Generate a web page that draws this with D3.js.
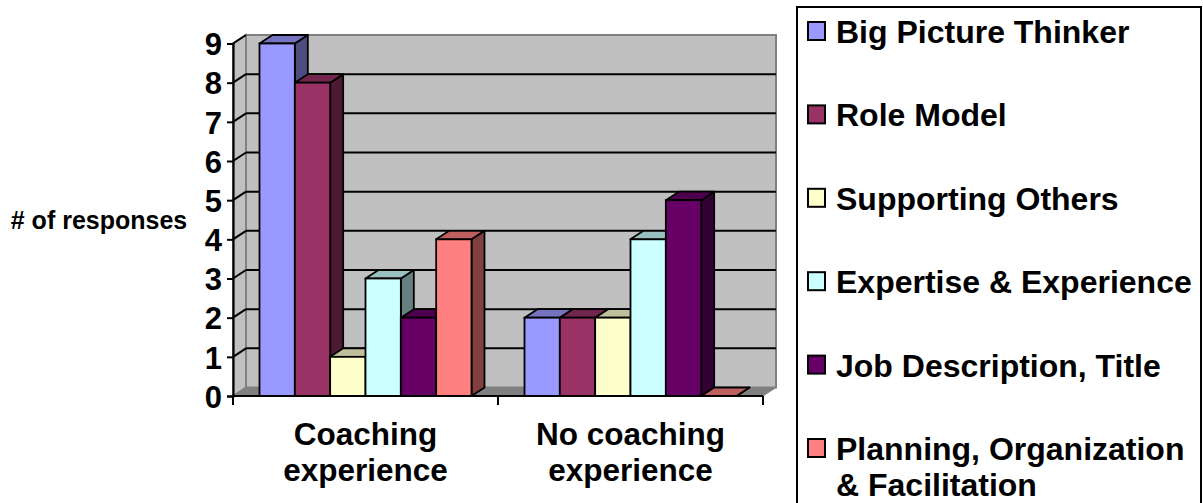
<!DOCTYPE html>
<html>
<head>
<meta charset="utf-8">
<script src="https://cdn.jsdelivr.net/npm/d3@7"></script>
<style>
  html, body { margin: 0; padding: 0; background: #fff; }
  svg { display: block; font-family: "Liberation Sans", Arial, sans-serif; font-weight: bold; }
</style>
</head>
<body>
<svg id="chart" width="1203" height="503"></svg>
<script>
// ---- data ----
const categories = [["Coaching", "experience"], ["No coaching", "experience"]];
const categoryKeys = ["Coaching experience", "No coaching experience"];
const seriesNames = ["Big Picture Thinker", "Role Model", "Supporting Others", "Expertise & Experience", "Job Description, Title", "Planning, Organization & Facilitation"];
const legendLines = [["Big Picture Thinker"], ["Role Model"], ["Supporting Others"], ["Expertise & Experience"], ["Job Description, Title"], ["Planning, Organization", "& Facilitation"]];
const valuesCoaching = [9, 8, 1, 3, 2, 4];
const valuesNoCoaching = [2, 2, 2, 4, 5, 0];
const yTicks = [0, 1, 2, 3, 4, 5, 6, 7, 8, 9];
const frontColors = ["#9999FF", "#993366", "#FFFFCC", "#CCFFFF", "#660066", "#FF8080"];

const seriesValues = [valuesCoaching, valuesNoCoaching];

// ---- layout ----
const svg = d3.select("#chart");
const X0 = 233, X1 = 763, Y0 = 396, Y9 = 43.5;
const DX = 13, DY = -8.5;

const y = d3.scaleLinear().domain([0, 9]).range([Y0, Y9]);
const x = d3.scaleBand().domain(categoryKeys).range([X0, X1]).paddingInner(0).paddingOuter(0);
const bw = x.bandwidth();
const groupW = bw * 6 / 7.5;
const xs = d3.scaleBand().domain(d3.range(6)).range([(bw - groupW) / 2, (bw + groupW) / 2]);

function shade(c, k) {
  const r = d3.rgb(c);
  return d3.rgb(r.r * k, r.g * k, r.b * k).formatHex();
}

// back wall
const yTop = y(9);
svg.append("polygon")
  .attr("points", [[X0 + DX, yTop + DY], [X1 + DX, yTop + DY], [X1 + DX, Y0 + DY], [X0 + DX, Y0 + DY]].join(" "))
  .attr("fill", "#C0C0C0").attr("stroke", "#808080").attr("stroke-width", 2);
// side wall
svg.append("polygon")
  .attr("points", [[X0, Y0], [X0, yTop], [X0 + DX, yTop + DY], [X0 + DX, Y0 + DY]].join(" "))
  .attr("fill", "#C0C0C0").attr("stroke", "#808080").attr("stroke-width", 2);
// floor
svg.append("polygon")
  .attr("points", [[X0, Y0], [X1, Y0], [X1 + DX, Y0 + DY], [X0 + DX, Y0 + DY]].join(" "))
  .attr("fill", "#808080").attr("stroke", "#808080").attr("stroke-width", 1);

// gridlines
const grid = svg.append("g");
yTicks.filter(t => t > 0 && t < 9).forEach(t => {
  grid.append("line").attr("x1", X0 + DX).attr("x2", X1 + DX)
    .attr("y1", y(t) + DY).attr("y2", y(t) + DY)
    .attr("stroke", "#000").attr("stroke-width", 2);
});
yTicks.filter(t => t > 0).forEach(t => {
  grid.append("line").attr("x1", X0).attr("x2", X0 + DX)
    .attr("y1", y(t)).attr("y2", y(t) + DY)
    .attr("stroke", "#000").attr("stroke-width", 2);
});

// bars
const barsG = svg.append("g");
seriesValues.forEach((vals, ci) => {
  vals.forEach((v, si) => {
    const bx = x(categoryKeys[ci]) + xs(si);
    const w = xs.bandwidth();
    const yv = y(v);
    const col = frontColors[si];
    // side
    barsG.append("polygon")
      .attr("points", [[bx + w, yv], [bx + w + DX, yv + DY], [bx + w + DX, Y0 + DY], [bx + w, Y0]].join(" "))
      .attr("fill", shade(col, 0.5)).attr("stroke", "#000").attr("stroke-width", 1.8).attr("stroke-linejoin", "round");
    // top
    barsG.append("polygon")
      .attr("points", [[bx, yv], [bx + DX, yv + DY], [bx + w + DX, yv + DY], [bx + w, yv]].join(" "))
      .attr("fill", shade(col, 0.75)).attr("stroke", "#000").attr("stroke-width", 1.8).attr("stroke-linejoin", "round");
    // front
    if (v > 0) {
      barsG.append("rect")
        .attr("x", bx).attr("y", yv).attr("width", w).attr("height", Y0 - yv)
        .attr("fill", col).attr("stroke", "#000").attr("stroke-width", 1.8);
    }
  });
});

// axes
const yAxis = d3.axisLeft(y).tickValues(yTicks).tickSize(6).tickPadding(5).tickFormat(d3.format("d"));
const yg = svg.append("g").attr("transform", `translate(${X0},0)`).call(yAxis);
yg.select(".domain").attr("stroke", "#000").attr("stroke-width", 2.2);
yg.selectAll(".tick line").attr("stroke", "#000").attr("stroke-width", 2);
yg.selectAll(".tick text").attr("font-size", 31).attr("font-weight", "bold").attr("fill", "#000")
  .attr("font-family", "Liberation Sans, Arial, sans-serif").attr("dy", "0.36em");

const xg = svg.append("g");
xg.append("line").attr("x1", X0).attr("x2", X1).attr("y1", Y0).attr("y2", Y0)
  .attr("stroke", "#000").attr("stroke-width", 2.2);
[X0, X0 + bw, X1].forEach(px => {
  xg.append("line").attr("x1", px).attr("x2", px).attr("y1", Y0).attr("y2", Y0 + 9)
    .attr("stroke", "#000").attr("stroke-width", 2);
});
categories.forEach((lines, ci) => {
  const cx = x(categoryKeys[ci]) + bw / 2;
  const t = xg.append("text").attr("text-anchor", "middle").attr("font-size", 31.5).attr("fill", "#000");
  lines.forEach((ln, li) => {
    t.append("tspan").attr("x", cx).attr("y", 445 + li * 36).text(ln);
  });
});

// y title
svg.append("text").attr("x", 99).attr("y", 229).attr("text-anchor", "middle")
  .attr("font-size", 25).attr("fill", "#000").text("# of responses");

// legend
const lg = svg.append("g");
lg.append("rect").attr("x", 797).attr("y", 7).attr("width", 404).attr("height", 520)
  .attr("fill", "#fff").attr("stroke", "#000").attr("stroke-width", 2);
legendLines.forEach((lines, i) => {
  const cy = 31 + i * 83.4;
  lg.append("rect").attr("x", 808).attr("y", cy - 9).attr("width", 17).attr("height", 18)
    .attr("fill", frontColors[i]).attr("stroke", "#000").attr("stroke-width", 2);
  const t = lg.append("text").attr("font-size", 32).attr("fill", "#000");
  lines.forEach((ln, li) => {
    t.append("tspan").attr("x", 836).attr("y", cy + 12 + li * 36).text(ln);
  });
});
</script>
</body>
</html>
